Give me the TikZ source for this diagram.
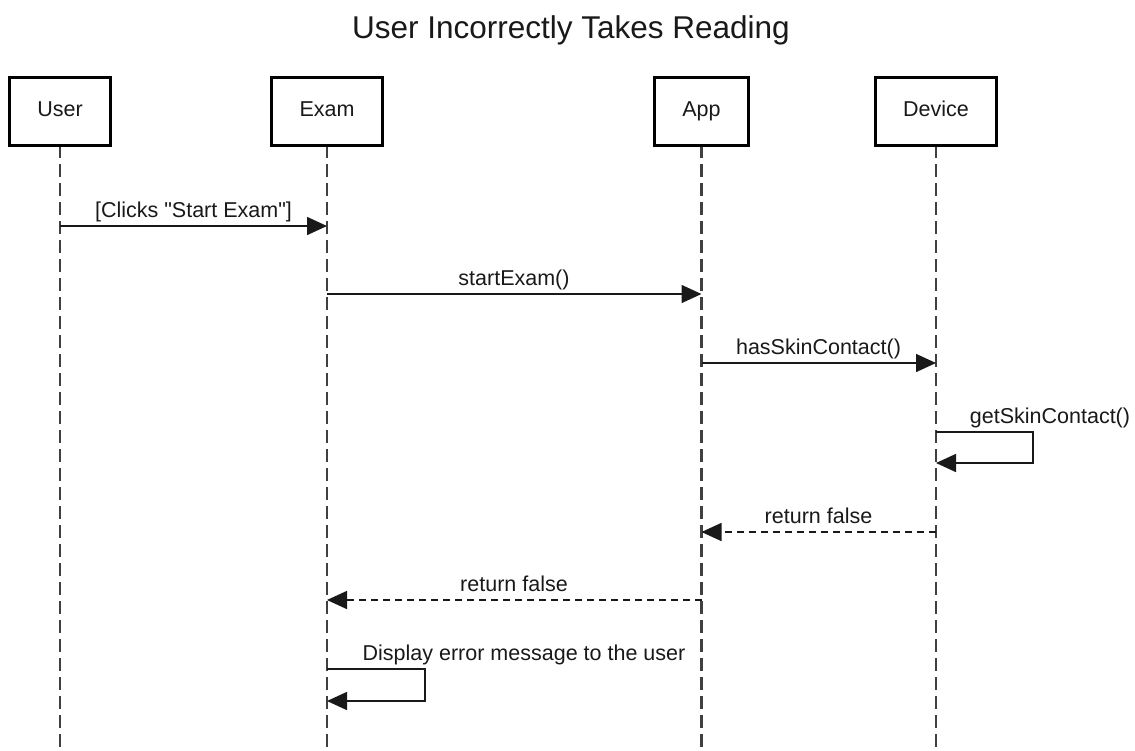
\documentclass[tikz,border=0pt]{standalone}
\usepackage{fontspec}
\setmainfont{Liberation Sans}
\newfontfamily\labelfont{Liberation Sans}
\usetikzlibrary{arrows.meta}
\tikzset{
	actor/.style={
			draw=black, line width=3pt, fill=white,
			inner xsep=28pt, minimum height=68pt,
			text height=15.5pt, text depth=4.5pt,
			font=\labelfont\fontsize{21.5}{26}\selectfont, text=black!90
		},
	lifeline/.style={draw=black!75, line width=2.5pt, dash pattern=on 13pt off 6pt},
	msg/.style={draw=black!90, line width=1.6pt, -{Triangle[length=20pt,width=18pt]}},
	reply/.style={msg, dash pattern=on 7pt off 5pt},
	lbl/.style={anchor=base, font=\labelfont\fontsize{21.5}{26}\selectfont, text=black!90}
}

\begin{document}
\begin{tikzpicture}[x=1pt,y=-1pt]
	\useasboundingbox (0,0) rectangle (1135,750);
	\node[anchor=base, font=\labelfont\fontsize{31.5}{38}\selectfont, text=black!90] (title) at (571,38) {User Incorrectly Takes Reading};

	\coordinate (userend) at (60,750);
	\coordinate (examend) at (327,750);
	\coordinate (append) at (701.5,750);
	\coordinate (deviceend) at (936,750);

	\draw[lifeline] (60,145) -- (userend);
	\draw[lifeline] (327,145) -- (examend);
	\draw[lifeline] (701.5,145) -- (append);
	\draw[lifeline] (936,145) -- (deviceend);

	\node[actor] (user) at (60,111) {User};
	\node[actor] (exam) at (327,111) {Exam};
	\node[actor] (app) at (701.5,111) {App};
	\node[actor] (device) at (936,111) {Device};

	\draw[msg] (user |- 0,226) -- (exam |- 0,226);
	\node[lbl] (clicks) at (193.5,217) {[Clicks "Start Exam"]};

	\draw[msg] (exam |- 0,294) -- (app |- 0,294);
	\node[lbl] (start) at (514,285) {startExam()};

	\draw[msg] (app |- 0,363) -- (device |- 0,363);
	\node[lbl] (has) at (818.5,354) {hasSkinContact()};

	\draw[msg] (device |- 0,432) -- ++(97,0) -- ++(0,31) -- (device |- 0,463);
	\node[lbl] (get) at (1050,423) {getSkinContact()};

	\draw[reply] (device |- 0,532) -- (app |- 0,532);
	\node[lbl] (ret1) at (818.5,523) {return false};

	\draw[reply] (app |- 0,600) -- (exam |- 0,600);
	\node[lbl] (ret2) at (514,591) {return false};

	\draw[msg] (exam |- 0,669) -- ++(98,0) -- ++(0,32) -- (exam |- 0,701);
	\node[lbl] (display) at (524,660) {Display error message to the user};
\end{tikzpicture}
\end{document}
